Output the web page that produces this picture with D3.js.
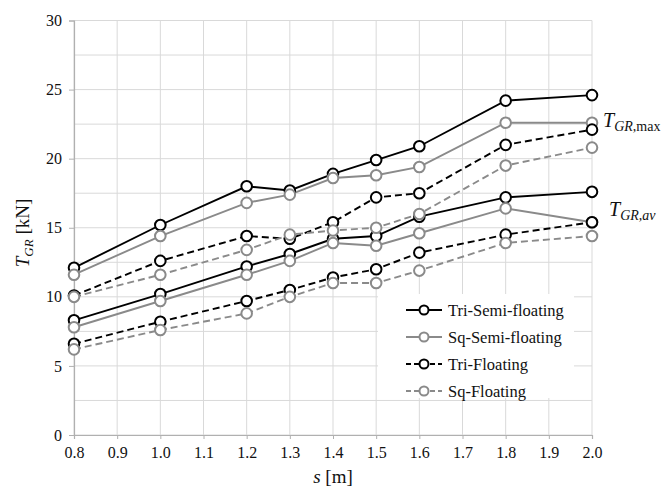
<!DOCTYPE html>
<html>
<head>
<meta charset="utf-8">
<script src="https://cdn.jsdelivr.net/npm/d3@7"></script>
<style>
  html, body { margin: 0; padding: 0; background: #fff; }
  svg { display: block; }
  text { font-family: "Liberation Serif", "Times New Roman", serif; fill: #111; }
</style>
</head>
<body>
<svg id="chart" width="667" height="487"></svg>
<script>
// Spacing s [m] at which the gripping force was evaluated
const spacing = [0.8, 1.0, 1.2, 1.3, 1.4, 1.5, 1.6, 1.8, 2.0];

// Maximum gripping force T_GR,max [kN]
const triSemiMax = [12.1, 15.2, 18.0, 17.7, 18.9, 19.9, 20.9, 24.2, 24.6];
const sqSemiMax  = [11.6, 14.4, 16.8, 17.4, 18.6, 18.8, 19.4, 22.6, 22.6];
const triFlMax   = [10.1, 12.6, 14.4, 14.2, 15.4, 17.2, 17.5, 21.0, 22.1];
const sqFlMax    = [10.0, 11.6, 13.4, 14.5, 14.8, 15.0, 16.0, 19.5, 20.8];

// Average gripping force T_GR,av [kN]
const triSemiAv = [8.3, 10.2, 12.2, 13.1, 14.2, 14.4, 15.8, 17.2, 17.6];
const sqSemiAv  = [7.8, 9.7, 11.6, 12.6, 13.9, 13.7, 14.6, 16.4, 15.4];
const triFlAv   = [6.6, 8.2, 9.7, 10.5, 11.4, 12.0, 13.2, 14.5, 15.4];
const sqFlAv    = [6.2, 7.6, 8.8, 10.0, 11.0, 11.0, 11.9, 13.9, 14.4];

const xTicks = [0.8, 0.9, 1.0, 1.1, 1.2, 1.3, 1.4, 1.5, 1.6, 1.7, 1.8, 1.9, 2.0];
const yTicks = [0, 5, 10, 15, 20, 25, 30];
const yGrid  = [0, 2.5, 5, 7.5, 10, 12.5, 15, 17.5, 20, 22.5, 25, 27.5, 30];

const seriesNames = ["Tri-Semi-floating", "Sq-Semi-floating", "Tri-Floating", "Sq-Floating"];

const BLACK = "#000000", GREY = "#8a8a8a";
const SERIF = "'Liberation Serif', 'Times New Roman', serif";
const series = [
  { name: seriesNames[0], color: BLACK, dash: null,  curves: [triSemiMax, triSemiAv] },
  { name: seriesNames[1], color: GREY,  dash: null,  curves: [sqSemiMax,  sqSemiAv]  },
  { name: seriesNames[2], color: BLACK, dash: "7,4", curves: [triFlMax,   triFlAv]   },
  { name: seriesNames[3], color: GREY,  dash: "7,4", curves: [sqFlMax,    sqFlAv]    }
];

const svg = d3.select("#chart");
const plotL = 74, plotR = 592, plotT = 20.5, plotB = 435;

const x = d3.scaleLinear().domain([0.8, 2.0]).range([plotL, plotR]);
const y = d3.scaleLinear().domain([0, 30]).range([plotB, plotT]);

// gridlines
const grid = svg.append("g").attr("stroke", "#d9d9d9").attr("stroke-width", 1);
grid.selectAll("line.v").data(xTicks).join("line")
  .attr("x1", d => x(d)).attr("x2", d => x(d))
  .attr("y1", plotT).attr("y2", plotB);
grid.selectAll("line.h").data(yGrid).join("line")
  .attr("x1", plotL).attr("x2", plotR)
  .attr("y1", d => y(d)).attr("y2", d => y(d));

// axes
const yAxis = d3.axisLeft(y).tickValues(yTicks).tickSize(5).tickPadding(7)
  .tickFormat(d3.format("d"));
const gy = svg.append("g").attr("transform", `translate(${plotL},0)`).call(yAxis)
  .attr("font-family", SERIF);
gy.select(".domain").attr("stroke", "#b0b0b0").attr("stroke-width", 1.2);
gy.selectAll(".tick line").attr("stroke", "#b0b0b0");
gy.selectAll(".tick text").attr("font-size", 16).attr("fill", "#111")
  .style("font-family", SERIF);

const xAxis = d3.axisBottom(x).tickValues(xTicks).tickSize(4).tickPadding(8)
  .tickFormat(d3.format(".1f"));
const gx = svg.append("g").attr("transform", `translate(0,${plotB})`).call(xAxis)
  .attr("font-family", SERIF);
gx.select(".domain").attr("stroke", "#b0b0b0").attr("stroke-width", 1.2);
gx.selectAll(".tick line").attr("stroke", "#b0b0b0");
gx.selectAll(".tick text").attr("font-size", 16).attr("fill", "#111")
  .style("font-family", SERIF);

// data lines and markers
const line = d3.line().x((d, i) => x(spacing[i])).y(d => y(d));
const plot = svg.append("g");
series.forEach(s => {
  s.curves.forEach(vals => {
    plot.append("path").datum(vals)
      .attr("d", line)
      .attr("fill", "none")
      .attr("stroke", s.color)
      .attr("stroke-width", 1.9)
      .attr("stroke-dasharray", s.dash);
  });
});
series.forEach(s => {
  s.curves.forEach(vals => {
    plot.append("g").selectAll("circle").data(vals).join("circle")
      .attr("cx", (d, i) => x(spacing[i]))
      .attr("cy", d => y(d))
      .attr("r", 5.3)
      .attr("fill", "#fff")
      .attr("stroke", s.color)
      .attr("stroke-width", 2);
  });
});

// legend
const legX = 378, legY = 294, legRow = 27;
const leg = svg.append("g");
leg.append("rect").attr("x", legX).attr("y", legY)
  .attr("width", 196).attr("height", 104).attr("fill", "#fff");
series.forEach((s, i) => {
  const cy = legY + 16 + i * legRow;
  const g = leg.append("g");
  g.append("line").attr("x1", legX + 28).attr("x2", legX + 64)
    .attr("y1", cy).attr("y2", cy)
    .attr("stroke", s.color).attr("stroke-width", 1.8)
    .attr("stroke-dasharray", s.dash ? "5,3" : null);
  g.append("circle").attr("cx", legX + 46).attr("cy", cy).attr("r", 4.5)
    .attr("fill", "#fff").attr("stroke", s.color).attr("stroke-width", 2);
  g.append("text").attr("x", legX + 70).attr("y", cy + 5.5)
    .attr("font-size", 16.5).style("font-family", SERIF).text(s.name);
});

// axis titles
const xt = svg.append("text").attr("x", 333).attr("y", 483)
  .attr("text-anchor", "middle").attr("font-size", 19);
xt.append("tspan").attr("font-style", "italic").text("s");
xt.append("tspan").text(" [m]");

const yt = svg.append("text")
  .attr("transform", "translate(29,233) rotate(-90)")
  .attr("text-anchor", "middle").attr("font-size", 19);
yt.append("tspan").attr("font-style", "italic").text("T");
yt.append("tspan").attr("font-style", "italic").attr("font-size", 13)
  .attr("dy", 4).text("GR");
yt.append("tspan").attr("dy", -4).text(" [kN]");

// curve-group annotations
function annot(xp, yp, sub) {
  const t = svg.append("text").attr("x", xp).attr("y", yp).attr("font-size", 20);
  t.append("tspan").attr("font-style", "italic").text("T");
  t.append("tspan").attr("font-size", 14).attr("dy", 4)
    .attr("font-style", "italic").text("GR");
  t.append("tspan").attr("font-size", 14).text("," + sub.text)
    .attr("font-style", sub.italic ? "italic" : "normal");
}
annot(603, 127, { text: "max", italic: false });
annot(609, 216, { text: "av", italic: true });
</script>
</body>
</html>
